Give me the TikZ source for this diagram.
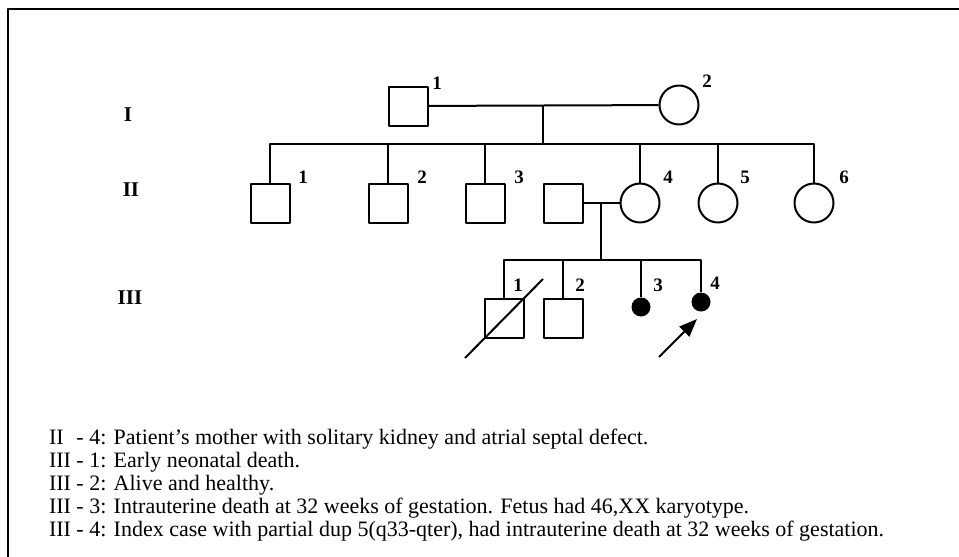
\documentclass[tikz,border=0pt]{standalone}
\usepackage{fontspec}
\setmainfont{Liberation Serif}
\usetikzlibrary{arrows.meta}
\begin{document}
\begin{tikzpicture}[x=1pt, y=-1pt, line width=2pt, line join=round,
  male/.style={draw, rectangle, minimum size=39pt, inner sep=0pt},
  female/.style={draw, circle, minimum size=39pt, inner sep=0pt},
  fetus/.style={fill, circle, minimum size=19pt, inner sep=0pt},
  gen/.style={font=\fontsize{21}{21}\selectfont\bfseries},
  num/.style={font=\fontsize{19}{19}\selectfont\bfseries},
  note/.style={anchor=base west, inner sep=0pt, font=\fontsize{22}{23}\selectfont},
  proband/.style={-{Triangle[length=18pt,width=14pt]}}]
\useasboundingbox (0,0) rectangle (959,557);
\draw[line width=1.5pt] (959,9) -| (8,557);
\node[gen] (gI) at (128,115) {I};
\node[gen] (gII) at (131,190) {II};
\node[gen] (gIII) at (130,298) {III};
\node[male] (I1) at (408,106) {};
\node[female] (I2) at (679,105) {};
\node[male] (II1) at (270,203) {};
\node[male] (II2) at (388,203) {};
\node[male] (II3) at (485,203) {};
\node[male] (sp) at (563,203) {};
\node[female] (II4) at (640,203) {};
\node[female] (II5) at (718,203) {};
\node[female] (II6) at (814,203) {};
\node[male] (III1) at (504,318) {};
\node[male] (III2) at (563,318) {};
\node[fetus] (III3) at (641,307) {};
\node[fetus] (III4) at (701,302) {};
\coordinate (m1) at (543,105);
\coordinate (s1) at (543,144);
\coordinate (m2) at (601,203);
\coordinate (s2) at (601,260);
\coordinate (p) at (697,319);
\draw (I1) -- (I2);
\draw (m1) -- (s1);
\draw (II1.north) |- (s1) -| (II6.north);
\foreach \k in {II2,II3,II4,II5}
  \draw (\k.north) -- (\k.north |- s1);
\draw (sp) -- (II4);
\draw (m2) -- (s2);
\draw (III1.north) |- (s2) -| (III4.north);
\foreach \k in {III2,III3}
  \draw (\k.north) -- (\k.north |- s2);
\draw (465,358) -- (543,279);
\draw[proband] (659,357) -- (p);
\node[num] (lI1) at (437,83) {1};
\node[num] (lI2) at (707,81) {2};
\node[num] (lII1) at (303,177) {1};
\node[num] (lII2) at (422,177) {2};
\node[num] (lII3) at (519,177) {3};
\node[num] (lII4) at (668,177) {4};
\node[num] (lII5) at (745,177) {5};
\node[num] (lII6) at (844,177) {6};
\node[num] (lIII1) at (518,285) {1};
\node[num] (lIII2) at (580,285) {2};
\node[num] (lIII3) at (658,285) {3};
\node[num] (lIII4) at (715,283) {4};
\node[note] (n1) at (48,444) {II\phantom{I} - 4: Patient’s mother with solitary kidney and atrial septal defect.};
\node[note] (n2) at (48,467) {III - 1: Early neonatal death.};
\node[note] (n3) at (48,490) {III - 2: Alive and healthy.};
\node[note] (n4) at (48,513) {III - 3: Intrauterine death at 32 weeks of gestation. Fetus had 46,XX karyotype.};
\node[note] (n5) at (48,536) {III - 4: Index case with partial dup 5(q33-qter), had intrauterine death at 32 weeks of gestation.};
\end{tikzpicture}
\end{document}
